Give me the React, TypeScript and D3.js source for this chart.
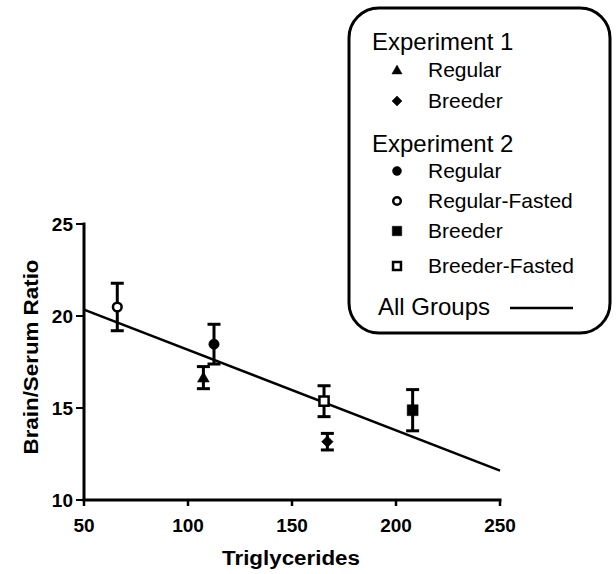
import React from 'react';
import * as d3 from 'd3';

// group means
const groupNames = ['Exp1 Regular', 'Exp1 Breeder', 'Exp2 Regular', 'Exp2 Regular-Fasted', 'Exp2 Breeder', 'Exp2 Breeder-Fasted'];
const triglycerides = [107.4, 167, 112.5, 66, 208, 165.4];
const brainSerum = [16.65, 13.17, 18.47, 20.49, 14.88, 15.37];
const sem = [0.6, 0.45, 1.08, 1.29, 1.12, 0.84];
const symbolKinds = ['triangle', 'diamond', 'circle', 'circle', 'square', 'square'];
const filled = [true, true, true, false, true, false];

// regression line for all groups
const fitX = [50, 250];
const fitY = [20.35, 11.6];

const xTicks = [50, 100, 150, 200, 250];
const yTicks = [10, 15, 20, 25];

const legendRows = [
  { kind: 'header', label: 'Experiment 1' },
  { kind: 'item', label: 'Regular', group: 0 },
  { kind: 'item', label: 'Breeder', group: 1 },
  { kind: 'header', label: 'Experiment 2' },
  { kind: 'item', label: 'Regular', group: 2 },
  { kind: 'item', label: 'Regular-Fasted', group: 3 },
  { kind: 'item', label: 'Breeder', group: 4 },
  { kind: 'item', label: 'Breeder-Fasted', group: 5 },
];
const legendBaselines = [50, 77, 108, 152, 178, 208, 238, 273];

const symbolSizes: Record<string, number> = { triangle: 60, diamond: 85, circle: 85, square: 120 };
const symbolTypes: Record<string, d3.SymbolType> = {
  triangle: d3.symbolTriangle,
  diamond: d3.symbolDiamond2,
  circle: d3.symbolCircle,
  square: d3.symbolSquare,
};

const font = '"Liberation Sans", Arial, sans-serif';

const Marker = ({ i, x, y, scale = 1 }: { i: number; x: number; y: number; scale?: number }) => {
  const kind = symbolKinds[i];
  const size = (filled[i] ? symbolSizes[kind] : symbolSizes[kind] * 0.7) * scale;
  const d = d3.symbol().type(symbolTypes[kind]).size(size)() as string;
  const dy = kind === 'triangle' ? 1 : 0;
  return (
    <path
      d={d}
      transform={`translate(${x},${y + dy})`}
      fill={filled[i] ? '#000' : '#fff'}
      stroke="#000"
      strokeWidth={filled[i] ? 0.5 : 2.5}
    />
  );
};

export default function App() {
  const width = 616;
  const height = 574;
  const x = d3.scaleLinear().domain([50, 250]).range([84, 500]);
  const y = d3.scaleLinear().domain([10, 25]).range([500, 224]);
  const line = d3.line<number>().x((d) => x(d)).y((_, k) => y(fitY[k]));
  const capW = 6.5;

  return (
    <svg
      width={width}
      height={height}
      style={{ position: 'absolute', left: 0, top: 0, background: '#fff' }}
      fontFamily={font}
    >
      <rect width={width} height={height} fill="#fff" />

      {/* axes */}
      <g stroke="#000" strokeWidth={3} fill="none">
        <line x1={x(50)} x2={x(50)} y1={y(25) - 1.5} y2={y(10)} />
        <line x1={x(50) - 1.5} x2={x(250) + 1.5} y1={y(10)} y2={y(10)} />
        {yTicks.map((t) => (
          <line key={t} x1={x(50) - 8} x2={x(50)} y1={y(t)} y2={y(t)} strokeWidth={2} />
        ))}
        {xTicks.map((t) => (
          <line key={t} x1={x(t)} x2={x(t)} y1={y(10)} y2={y(10) + 6} strokeWidth={2.5} />
        ))}
      </g>
      {yTicks.map((t) => (
        <text key={t} x={x(50) - 11} y={y(t) + 7} textAnchor="end" fontSize={19} fontWeight="bold">
          {t}
        </text>
      ))}
      {xTicks.map((t) => (
        <text key={t} x={x(t)} y={532} textAnchor="middle" fontSize={19} fontWeight="bold">
          {t}
        </text>
      ))}
      <text x={291} y={565} textAnchor="middle" fontSize={20} fontWeight="bold" textLength={138} lengthAdjust="spacingAndGlyphs">
        Triglycerides
      </text>
      <text
        transform={`translate(38,357) rotate(-90)`}
        textAnchor="middle"
        fontSize={20}
        fontWeight="bold"
        textLength={195}
        lengthAdjust="spacingAndGlyphs"
      >
        Brain/Serum Ratio
      </text>

      {/* regression line */}
      <path d={line(fitX) as string} fill="none" stroke="#000" strokeWidth={2.5} />

      {/* error bars and markers */}
      {groupNames.map((g, i) => {
        const cx = x(triglycerides[i]);
        const top = y(brainSerum[i] + sem[i]);
        const bot = y(brainSerum[i] - sem[i]);
        return (
          <g key={g}>
            <g stroke="#000" strokeWidth={3}>
              <line x1={cx} x2={cx} y1={top} y2={bot} />
              <line x1={cx - capW} x2={cx + capW} y1={top} y2={top} />
              <line x1={cx - capW} x2={cx + capW} y1={bot} y2={bot} />
            </g>
            <Marker i={i} x={cx} y={y(brainSerum[i])} />
          </g>
        );
      })}

      {/* legend */}
      <rect x={349} y={8} width={261} height={325} rx={30} ry={30} fill="#fff" stroke="#000" strokeWidth={3} />
      {legendRows.map((r, k) =>
        r.kind === 'header' ? (
          <text key={k} x={372} y={legendBaselines[k]} fontSize={24}>
            {r.label}
          </text>
        ) : (
          <g key={k}>
            <Marker i={r.group as number} x={397} y={legendBaselines[k] - 7} scale={0.75} />
            <text x={428} y={legendBaselines[k]} fontSize={21}>
              {r.label}
            </text>
          </g>
        )
      )}
      <text x={378} y={315} fontSize={24}>
        All Groups
      </text>
      <line x1={510} x2={573} y1={308} y2={308} stroke="#000" strokeWidth={2.5} />
    </svg>
  );
}
